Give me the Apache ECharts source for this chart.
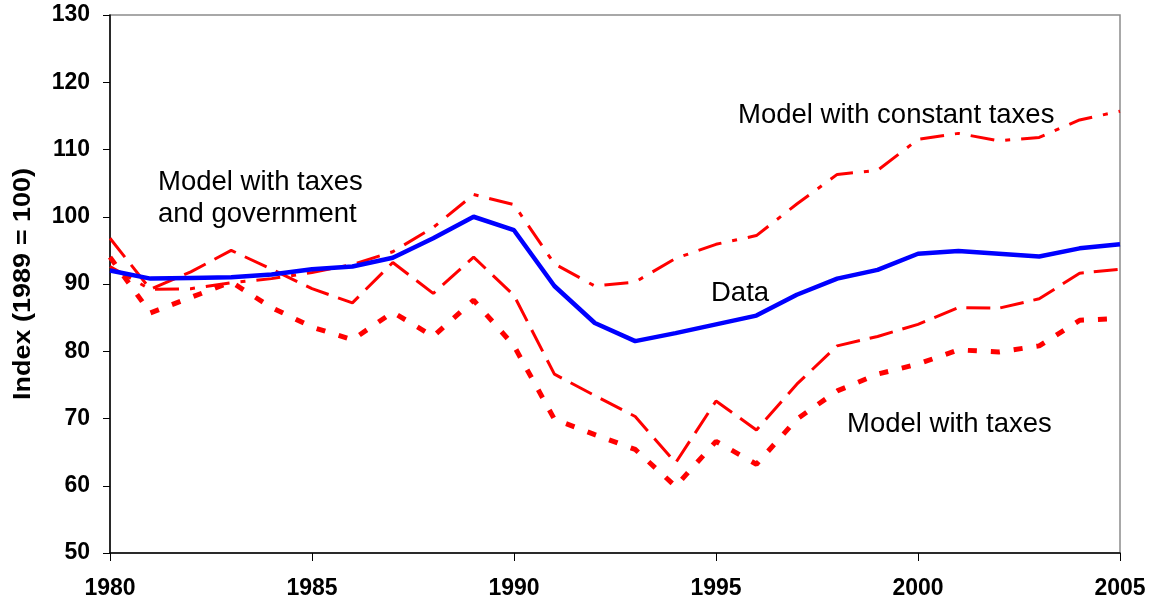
<!DOCTYPE html>
<html>
<head>
<meta charset="utf-8">
<script src="https://cdn.jsdelivr.net/npm/echarts@6/dist/echarts.min.js"></script>
<style>
html,body{margin:0;padding:0;background:#fff;}
#chart{width:1155px;height:607px;}
</style>
</head>
<body>
<div id="chart"></div>
<script>
var years = [1980,1981,1982,1983,1984,1985,1986,1987,1988,1989,1990,1991,1992,1993,1994,1995,1996,1997,1998,1999,2000,2001,2002,2003,2004,2005];
var dataSeries = [92.0,90.8,90.9,91.0,91.4,92.2,92.6,93.9,96.8,100.0,98.0,89.7,84.2,81.5,82.7,84.0,85.3,88.4,90.8,92.1,94.5,94.9,94.5,94.1,95.3,95.9];
var constantTaxes = [92.6,89.2,89.3,90.2,90.8,91.7,92.9,94.8,98.4,103.3,101.8,93.0,89.7,90.3,93.8,95.9,97.2,101.9,106.3,106.9,111.5,112.4,111.3,111.8,114.4,115.7];
var withTaxes = [96.8,89.2,91.8,95.0,92.2,89.3,87.2,93.2,88.6,94.0,88.3,76.6,73.4,70.3,63.4,72.6,68.3,75.1,80.8,82.2,84.0,86.5,86.4,87.8,91.6,92.2];
var taxesGov = [94.0,85.7,88.0,90.3,86.5,83.6,81.7,85.8,82.2,87.6,80.8,69.9,67.6,65.4,59.9,66.6,63.2,69.9,74.1,76.6,78.1,80.2,79.9,80.8,84.6,84.9];
var yTicks = {min:50, max:130, interval:10};
var xTicks = {min:1980, max:2005, interval:5};
var yTitle = 'Index (1989 = 100)';
var annotations = [
  {text:'Model with constant taxes', x:738, y:115},
  {text:'Model with taxes\nand government', x:158, y:198},
  {text:'Data', x:711, y:293},
  {text:'Model with taxes', x:847, y:424}
];

function pairs(arr){ return years.map(function(y,i){ return [y, arr[i]]; }); }

var chart = echarts.init(document.getElementById('chart'), null, {renderer:'canvas'});
var FONT = '"Liberation Sans", Arial, sans-serif';
var option = {
  animation:false,
  backgroundColor:'#ffffff',
  grid:{left:110, right:35, top:15, bottom:54, show:true, borderColor:'#8c8c8c', borderWidth:1.5, backgroundColor:'transparent'},
  xAxis:{
    type:'value', min:xTicks.min, max:xTicks.max, interval:xTicks.interval,
    axisLine:{show:true, onZero:false, lineStyle:{color:'#000', width:1.5}},
    axisTick:{show:true, inside:false, length:8, lineStyle:{color:'#000', width:1}},
    axisLabel:{margin:24, color:'#000', fontSize:23, fontWeight:'bold', fontFamily:FONT, formatter:function(v){return String(v);}},
    splitLine:{show:false}
  },
  yAxis:{
    type:'value', min:yTicks.min, max:yTicks.max, interval:yTicks.interval,
    axisLine:{show:true, onZero:false, lineStyle:{color:'#000', width:1.5}},
    axisTick:{show:true, inside:false, length:7, lineStyle:{color:'#000', width:1}},
    axisLabel:{margin:20, color:'#000', fontSize:23, fontWeight:'bold', fontFamily:FONT},
    splitLine:{show:false}
  },
  graphic:[
    {type:'text', x:23, y:284, rotation:Math.PI/2, scaleX:1, scaleY:0.9, style:{text:yTitle, font:'bold 27px '+FONT, fill:'#000', textAlign:'center', textVerticalAlign:'middle'}, z:100}
  ].concat(annotations.map(function(a){
    return {type:'text', x:a.x, y:a.y, style:{text:a.text, font:'27.5px '+FONT, fill:'#000', textAlign:'left', textVerticalAlign:'middle', lineHeight:32}, z:100};
  })),
  series:[
    {name:'Model with taxes and government', type:'line', data:pairs(taxesGov), symbol:'none', lineStyle:{color:'#ff0000', width:5, type:[9,14]}, z:2},
    {name:'Model with taxes', type:'line', data:pairs(withTaxes), symbol:'none', lineStyle:{color:'#ff0000', width:3, type:[24,10]}, z:3},
    {name:'Model with constant taxes', type:'line', data:pairs(constantTaxes), symbol:'none', lineStyle:{color:'#ff0000', width:3, type:[24,11,5,11]}, z:4},
    {name:'Data', type:'line', data:pairs(dataSeries), symbol:'none', lineStyle:{color:'#0000ff', width:4.5}, z:5}
  ]
};
chart.setOption(option);
</script>
</body>
</html>
